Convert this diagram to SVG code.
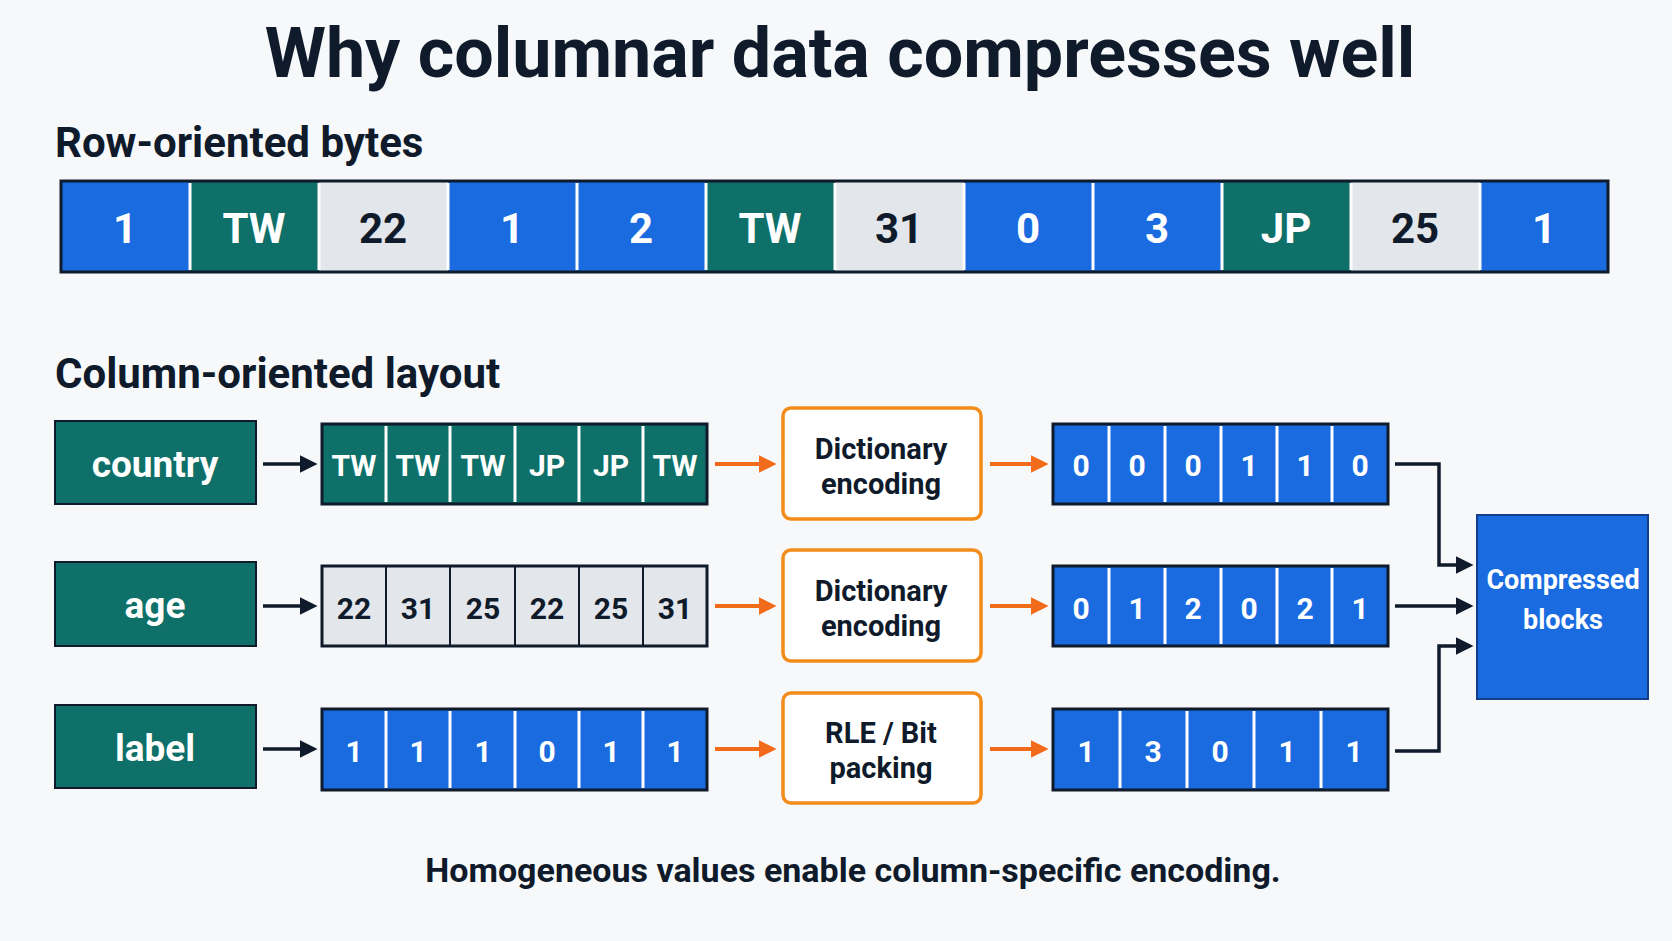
<svg xmlns="http://www.w3.org/2000/svg" width="1672" height="941" viewBox="0 0 1672 941">
<defs>
<style>
text{font-family:Roboto,"Liberation Sans",sans-serif;font-weight:700;text-anchor:middle}
.b{fill:#1a6be0}.t{fill:#0e7068}.g{fill:#e3e6eb}
.frame{fill:none;stroke:#0f1a2a;stroke-width:3}
.sep{stroke:#fff;stroke-width:3}
.sepd{stroke:#0f1a2a;stroke-width:2}
.w{fill:#fff}.d{fill:#0f1a2a}
.enc{fill:#fff;stroke:#f28c1a;stroke-width:3.5}
.ka{stroke:#0f1a2a;stroke-width:3.5;fill:none}
.oa{stroke:#f26b1a;stroke-width:4;fill:none}
</style>
<marker id="mk" viewBox="0 0 10 10" refX="8" refY="5" markerWidth="5" markerHeight="5" orient="auto"><path d="M0,0 L10,5 L0,10 z" fill="#0f1a2a"/></marker>
<marker id="mo" viewBox="0 0 10 10" refX="8" refY="5" markerWidth="4.5" markerHeight="4.5" orient="auto"><path d="M0,0 L10,5 L0,10 z" fill="#f26b1a"/></marker>
</defs>
<rect width="1672" height="941" fill="#f6f8fa"/>
<text x="840" y="77" font-size="70" class="d">Why columnar data compresses well</text>
<text x="55" y="157" font-size="42" class="d" style="text-anchor:start">Row-oriented bytes</text>
<g id="rowbar" font-size="42">
<rect x="61" y="181" width="129" height="91" class="b"/><text x="125" y="243" class="w">1</text>
<rect x="190" y="181" width="129" height="91" class="t"/><text x="254" y="243" class="w">TW</text>
<rect x="319" y="181" width="129" height="91" class="g"/><text x="383" y="243" class="d">22</text>
<rect x="448" y="181" width="129" height="91" class="b"/><text x="512" y="243" class="w">1</text>
<rect x="577" y="181" width="129" height="91" class="b"/><text x="641" y="243" class="w">2</text>
<rect x="706" y="181" width="129" height="91" class="t"/><text x="770" y="243" class="w">TW</text>
<rect x="835" y="181" width="129" height="91" class="g"/><text x="899" y="243" class="d">31</text>
<rect x="964" y="181" width="129" height="91" class="b"/><text x="1028" y="243" class="w">0</text>
<rect x="1093" y="181" width="129" height="91" class="b"/><text x="1157" y="243" class="w">3</text>
<rect x="1222" y="181" width="129" height="91" class="t"/><text x="1286" y="243" class="w">JP</text>
<rect x="1351" y="181" width="129" height="91" class="g"/><text x="1415" y="243" class="d">25</text>
<rect x="1480" y="181" width="128" height="91" class="b"/><text x="1544" y="243" class="w">1</text>
<g class="sep"><line x1="190" y1="183" x2="190" y2="270"/><line x1="319" y1="183" x2="319" y2="270"/><line x1="448" y1="183" x2="448" y2="270"/><line x1="577" y1="183" x2="577" y2="270"/><line x1="706" y1="183" x2="706" y2="270"/><line x1="835" y1="183" x2="835" y2="270"/><line x1="964" y1="183" x2="964" y2="270"/><line x1="1093" y1="183" x2="1093" y2="270"/><line x1="1222" y1="183" x2="1222" y2="270"/><line x1="1351" y1="183" x2="1351" y2="270"/><line x1="1480" y1="183" x2="1480" y2="270"/></g>
<rect x="61" y="181" width="1547" height="91" class="frame"/>
</g>
<text x="55" y="388" font-size="42" class="d" style="text-anchor:start">Column-oriented layout</text>
<g id="country"><rect x="55" y="421" width="201" height="83" class="t" stroke="#0f1a2a" stroke-width="2"/><text x="155" y="477" font-size="37" class="w">country</text></g>
<g id="age"><rect x="55" y="562" width="201" height="84" class="t" stroke="#0f1a2a" stroke-width="2"/><text x="155" y="618" font-size="37" class="w">age</text></g>
<g id="label"><rect x="55" y="705" width="201" height="83" class="t" stroke="#0f1a2a" stroke-width="2"/><text x="155" y="761" font-size="37" class="w">label</text></g>
<g id="countryCells" font-size="30">
<rect x="322" y="424" width="385" height="80" class="t"/>
<g class="sep"><line x1="386" y1="426" x2="386" y2="502"/><line x1="450" y1="426" x2="450" y2="502"/><line x1="515" y1="426" x2="515" y2="502"/><line x1="579" y1="426" x2="579" y2="502"/><line x1="643" y1="426" x2="643" y2="502"/></g>
<rect x="322" y="424" width="385" height="80" class="frame" stroke-width="2"/>
<g class="w"><text x="354" y="476">TW</text><text x="418" y="476">TW</text><text x="483" y="476">TW</text><text x="547" y="476">JP</text><text x="611" y="476">JP</text><text x="675" y="476">TW</text></g>
</g>
<g id="ageCells" font-size="30">
<rect x="322" y="566" width="385" height="80" class="g"/>
<g class="sepd"><line x1="386" y1="566" x2="386" y2="646"/><line x1="450" y1="566" x2="450" y2="646"/><line x1="515" y1="566" x2="515" y2="646"/><line x1="579" y1="566" x2="579" y2="646"/><line x1="643" y1="566" x2="643" y2="646"/></g>
<rect x="322" y="566" width="385" height="80" class="frame" stroke-width="2"/>
<g class="d"><text x="354" y="619">22</text><text x="418" y="619">31</text><text x="483" y="619">25</text><text x="547" y="619">22</text><text x="611" y="619">25</text><text x="675" y="619">31</text></g>
</g>
<g id="labelCells" font-size="30">
<rect x="322" y="709" width="385" height="81" class="b"/>
<g class="sep"><line x1="386" y1="711" x2="386" y2="788"/><line x1="450" y1="711" x2="450" y2="788"/><line x1="515" y1="711" x2="515" y2="788"/><line x1="579" y1="711" x2="579" y2="788"/><line x1="643" y1="711" x2="643" y2="788"/></g>
<rect x="322" y="709" width="385" height="81" class="frame" stroke-width="2"/>
<g class="w"><text x="354" y="762">1</text><text x="418" y="762">1</text><text x="483" y="762">1</text><text x="547" y="762">0</text><text x="611" y="762">1</text><text x="675" y="762">1</text></g>
</g>
<g id="enc1"><rect x="783" y="408" width="198" height="111" rx="8" class="enc"/><text x="881" y="459" font-size="29" class="d">Dictionary</text><text x="881" y="494" font-size="29" class="d">encoding</text></g>
<g id="enc2"><rect x="783" y="550" width="198" height="111" rx="8" class="enc"/><text x="881" y="601" font-size="29" class="d">Dictionary</text><text x="881" y="636" font-size="29" class="d">encoding</text></g>
<g id="enc3"><rect x="783" y="693" width="198" height="110" rx="8" class="enc"/><text x="881" y="743" font-size="29" class="d">RLE / Bit</text><text x="881" y="778" font-size="29" class="d">packing</text></g>
<g id="out1" font-size="30">
<rect x="1053" y="424" width="335" height="80" class="b"/>
<g class="sep"><line x1="1109" y1="426" x2="1109" y2="502"/><line x1="1165" y1="426" x2="1165" y2="502"/><line x1="1221" y1="426" x2="1221" y2="502"/><line x1="1277" y1="426" x2="1277" y2="502"/><line x1="1332" y1="426" x2="1332" y2="502"/></g>
<rect x="1053" y="424" width="335" height="80" class="frame" stroke-width="2"/>
<g class="w"><text x="1081" y="476">0</text><text x="1137" y="476">0</text><text x="1193" y="476">0</text><text x="1249" y="476">1</text><text x="1305" y="476">1</text><text x="1360" y="476">0</text></g>
</g>
<g id="out2" font-size="30">
<rect x="1053" y="566" width="335" height="80" class="b"/>
<g class="sep"><line x1="1109" y1="568" x2="1109" y2="644"/><line x1="1165" y1="568" x2="1165" y2="644"/><line x1="1221" y1="568" x2="1221" y2="644"/><line x1="1277" y1="568" x2="1277" y2="644"/><line x1="1332" y1="568" x2="1332" y2="644"/></g>
<rect x="1053" y="566" width="335" height="80" class="frame" stroke-width="2"/>
<g class="w"><text x="1081" y="619">0</text><text x="1137" y="619">1</text><text x="1193" y="619">2</text><text x="1249" y="619">0</text><text x="1305" y="619">2</text><text x="1360" y="619">1</text></g>
</g>
<g id="out3" font-size="30">
<rect x="1053" y="709" width="335" height="81" class="b"/>
<g class="sep"><line x1="1120" y1="711" x2="1120" y2="788"/><line x1="1187" y1="711" x2="1187" y2="788"/><line x1="1254" y1="711" x2="1254" y2="788"/><line x1="1321" y1="711" x2="1321" y2="788"/></g>
<rect x="1053" y="709" width="335" height="81" class="frame" stroke-width="2"/>
<g class="w"><text x="1086" y="762">1</text><text x="1153" y="762">3</text><text x="1220" y="762">0</text><text x="1287" y="762">1</text><text x="1354" y="762">1</text></g>
</g>
<g id="compressed"><rect x="1477" y="515" width="171" height="184" class="b" stroke="#123e8a" stroke-width="2"/><text x="1563" y="589" font-size="27" class="w">Compressed</text><text x="1563" y="629" font-size="27" class="w">blocks</text></g>
<g id="connectors">
<path class="ka" marker-end="url(#mk)" d="M263,464 H314"/>
<path class="ka" marker-end="url(#mk)" d="M263,606 H314"/>
<path class="ka" marker-end="url(#mk)" d="M263,749 H314"/>
<path class="oa" marker-end="url(#mo)" d="M715,464 H773"/>
<path class="oa" marker-end="url(#mo)" d="M715,606 H773"/>
<path class="oa" marker-end="url(#mo)" d="M715,749 H773"/>
<path class="oa" marker-end="url(#mo)" d="M990,464 H1045"/>
<path class="oa" marker-end="url(#mo)" d="M990,606 H1045"/>
<path class="oa" marker-end="url(#mo)" d="M990,749 H1045"/>
<path class="ka" marker-end="url(#mk)" d="M1395,464 H1439 V565 H1470"/>
<path class="ka" marker-end="url(#mk)" d="M1395,606 H1470"/>
<path class="ka" marker-end="url(#mk)" d="M1395,751 H1439 V646 H1470"/>
</g>
<text x="853" y="882" font-size="34" class="d">Homogeneous values enable column-specific encoding.</text>
</svg>
